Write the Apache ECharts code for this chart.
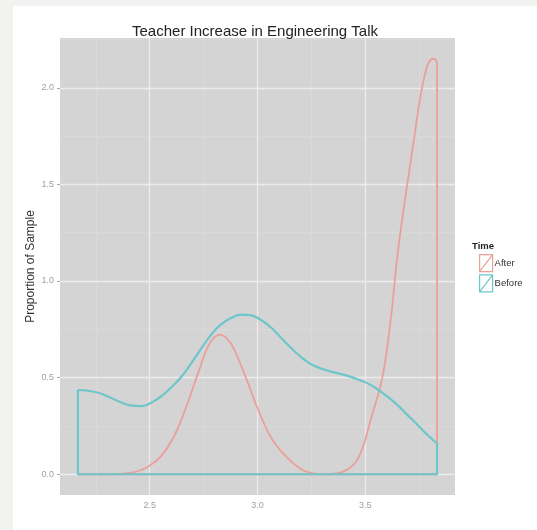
<!DOCTYPE html>
<html>
<head>
<meta charset="utf-8">
<script src="https://cdn.jsdelivr.net/npm/echarts@6/dist/echarts.min.js"></script>
<style>
html,body{margin:0;padding:0;background:#f2f2f0;}
#c{width:537px;height:530px;}
</style>
</head>
<body>
<div id="c"></div>
<script>
// ---- data ----
var chartTitle = 'Teacher Increase in Engineering Talk';
var yTitle = 'Proportion of Sample';
var legendTitle = 'Time';
var groups = ['After', 'Before'];
var xTicks = [2.5, 3.0, 3.5];
var yTicks = [0.0, 0.5, 1.0, 1.5, 2.0];
var xMinorGrid = [2.25, 2.75, 3.25, 3.75];
var yMinorGrid = [0.25, 0.75, 1.25, 1.75, 2.25];
var xStart = 2.167, xEnd = 3.833;

var afterX = [2.167, 2.25, 2.33, 2.40, 2.45, 2.49, 2.55, 2.61, 2.67, 2.735, 2.78, 2.827, 2.86, 2.89, 2.95, 3.01, 3.07, 3.15, 3.23, 3.32, 3.41, 3.47, 3.53, 3.58, 3.618, 3.649, 3.68, 3.703, 3.726, 3.749, 3.772, 3.795, 3.818, 3.833];
var afterY = [0.0, 0.0, 0.001, 0.005, 0.018, 0.038, 0.09, 0.19, 0.35, 0.557, 0.68, 0.722, 0.70, 0.65, 0.488, 0.315, 0.177, 0.073, 0.012, 0.0, 0.02, 0.09, 0.30, 0.505, 0.80, 1.128, 1.388, 1.561, 1.734, 1.907, 2.046, 2.132, 2.15, 2.13];

var beforeX = [2.167, 2.243, 2.30, 2.36, 2.41, 2.459, 2.50, 2.55, 2.60, 2.643, 2.69, 2.735, 2.78, 2.827, 2.88, 2.927, 2.97, 3.011, 3.06, 3.104, 3.15, 3.196, 3.24, 3.288, 3.33, 3.38, 3.43, 3.472, 3.52, 3.565, 3.61, 3.657, 3.70, 3.749, 3.79, 3.833];
var beforeY = [0.436, 0.427, 0.405, 0.375, 0.356, 0.352, 0.366, 0.40, 0.45, 0.499, 0.57, 0.644, 0.715, 0.772, 0.810, 0.826, 0.822, 0.802, 0.762, 0.713, 0.660, 0.612, 0.575, 0.550, 0.535, 0.520, 0.505, 0.488, 0.465, 0.433, 0.395, 0.350, 0.302, 0.248, 0.202, 0.159];

// ---- build ----
var colAfter = '#eb9f99', colBefore = '#6cc6ca';
var FONT = 'Liberation Sans, Arial, sans-serif';
function pairs(xs, ys){ return xs.map(function(x,i){ return [x, ys[i]]; }); }
var afterPts = pairs(afterX, afterY);
var beforePts = pairs(beforeX, beforeY);
var afterEdge = [[xEnd, afterY[afterY.length-1]], [xEnd, 0], [xStart, 0], [xStart, afterY[0]]];
var beforeEdge = [[xStart, beforeY[0]], [xStart, 0], [xEnd, 0], [xEnd, beforeY[beforeY.length-1]]];

var span = xEnd - xStart;
var xMin = xStart - 0.05*span, xMax = xEnd + 0.05*span;
var yTop = 2.15;
var yMin = -0.05*yTop, yMax = yTop*1.05;

function gridLines(vals, axis, color, width){
  return vals.map(function(v){
    var o = {lineStyle:{color:color, width:width, type:'solid'}};
    o[axis] = v; return o;
  });
}
var markData = []
  .concat(gridLines(xMinorGrid, 'xAxis', '#dbdbdb', 0.8))
  .concat(gridLines(yMinorGrid, 'yAxis', '#dbdbdb', 0.8))
  .concat(gridLines(xTicks, 'xAxis', '#ececec', 1.3))
  .concat(gridLines(yTicks, 'yAxis', '#ececec', 1.3));

var chart = echarts.init(document.getElementById('c'), null, {renderer:'canvas'});
chart.setOption({
  animation: false,
  backgroundColor: '#f2f2f0',
  graphic: [{type:'rect', left:13, top:6, shape:{width:524, height:524}, style:{fill:'#ffffff'}, z:-10, silent:true}],
  title: [
    {text: chartTitle, left: 255, top: 24, textAlign: 'center', padding:0,
     textStyle:{fontFamily:FONT, fontSize:15, fontWeight:'normal', color:'#222'}},
    {text: legendTitle, left: 472, top: 241, padding:0,
     textStyle:{fontFamily:FONT, fontSize:9.5, fontWeight:'bold', color:'#222'}}
  ],
  legend: {
    data: [
      {name:'After', itemStyle:{color:'rgba(255,255,255,0)', borderColor:colAfter, borderWidth:1.2}},
      {name:'Before', itemStyle:{color:'rgba(255,255,255,0)', borderColor:colBefore, borderWidth:1.2}}
    ],
    icon: 'path://M0,0L13,0L13,17L0,17Z M0,17L13,0',
    orient: 'vertical', left: 479, top: 254, padding: 0,
    itemWidth: 13, itemHeight: 17, itemGap: 2,
    selectedMode: false,
    textStyle:{fontFamily:FONT, fontSize:9.5, color:'#333', padding:[0,0,0,-3]}
  },
  grid: {left:60, right:82, top:38, bottom:35, show:true, backgroundColor:'#d4d4d4', borderWidth:0},
  xAxis: {
    type:'value', min:xMin, max:xMax,
    axisLine:{show:false},
    splitLine:{show:false},
    axisTick:{show:true, customValues:xTicks, length:3, lineStyle:{color:'#a8a8a8'}},
    axisLabel:{customValues:xTicks, margin:6, fontSize:9, color:'#a0a0a0', fontFamily:FONT,
      formatter:function(v){ return v.toFixed(1); }}
  },
  yAxis: {
    type:'value', min:yMin, max:yMax,
    name: yTitle, nameLocation:'middle', nameGap:23, nameRotate:90, nameMoveOverlap:false,
    nameTextStyle:{fontFamily:FONT, fontSize:12, color:'#333'},
    axisLine:{show:false},
    splitLine:{show:false},
    axisTick:{show:true, customValues:yTicks, length:3, lineStyle:{color:'#a8a8a8'}},
    axisLabel:{customValues:yTicks, margin:6, fontSize:9, color:'#a0a0a0', fontFamily:FONT,
      formatter:function(v){ return v.toFixed(1); }}
  },
  series: [
    {name:'grid', type:'line', data:[], z:1, silent:true,
     markLine:{z:1, silent:true, symbol:['none','none'], label:{show:false}, animation:false, data:markData}},
    {name:'After', type:'line', data:afterPts, smooth:0.4, showSymbol:false, symbol:'none', z:3,
     lineStyle:{color:colAfter, width:1.8}, itemStyle:{color:colAfter}},
    {name:'After', type:'line', data:afterEdge, showSymbol:false, symbol:'none', z:3,
     lineStyle:{color:colAfter, width:1.8}, itemStyle:{color:colAfter}},
    {name:'Before', type:'line', data:beforePts, smooth:0.5, showSymbol:false, symbol:'none', z:4,
     lineStyle:{color:colBefore, width:2.2}, itemStyle:{color:colBefore}},
    {name:'Before', type:'line', data:beforeEdge, showSymbol:false, symbol:'none', z:4,
     lineStyle:{color:colBefore, width:2.2}, itemStyle:{color:colBefore}}
  ]
});
</script>
</body>
</html>
